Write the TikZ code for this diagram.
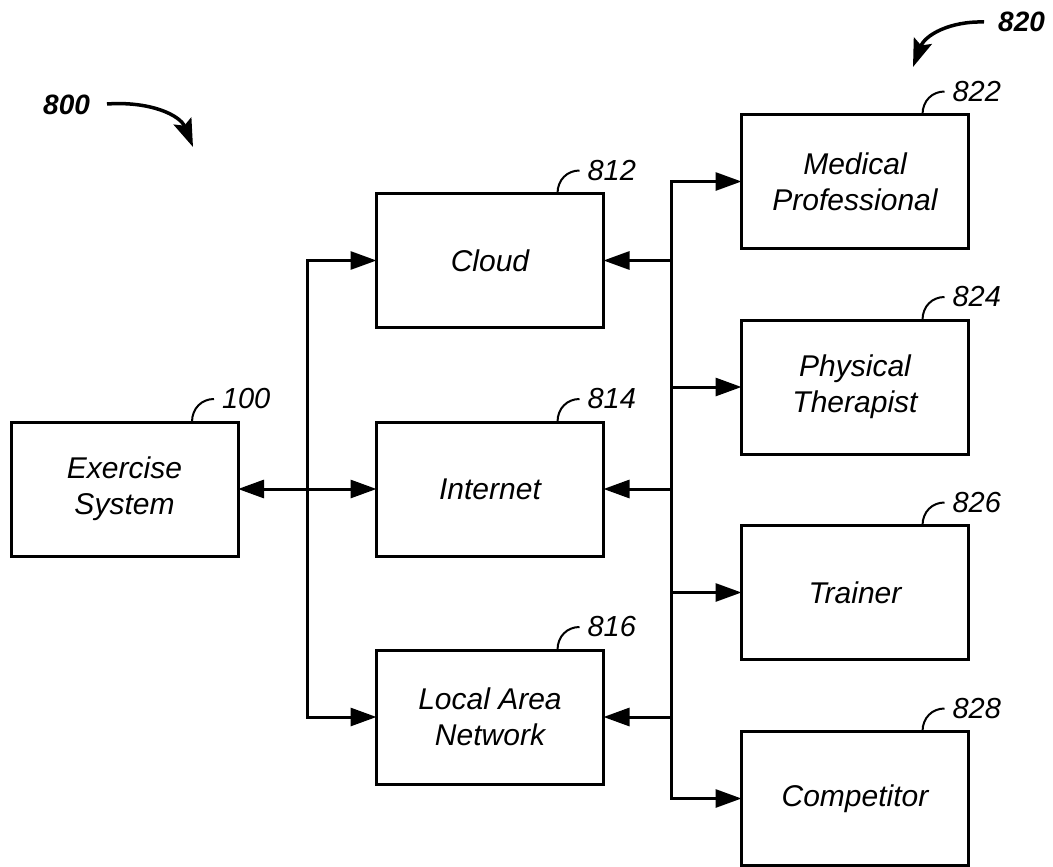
\documentclass[tikz,border=0pt]{standalone}
\usepackage{fontspec}
\setmainfont{Liberation Sans}
\usetikzlibrary{arrows.meta,calc}
\begin{document}
\begin{tikzpicture}[x=1pt,y=-1pt,
  box/.style={draw, line width=3pt, minimum width=227pt, minimum height=134pt,
    inner sep=0pt, outer sep=0pt, align=center, font=\fontsize{30}{36}\selectfont\itshape},
  conn/.style={line width=3pt},
  tip/.style={-{Triangle[length=26pt,width=18pt]}},
  dtip/.style={{Triangle[length=26pt,width=18pt]}-{Triangle[length=26pt,width=18pt]}},
  refnum/.style={font=\fontsize{29}{32}\selectfont\itshape, inner sep=0pt, anchor=west, xshift=7pt},
  leader/.style={line width=2pt},
  bignum/.style={font=\fontsize{28}{30}\selectfont\bfseries\itshape, inner sep=0pt, anchor=base west},
  bigarrow/.style={line width=3.5pt, -{Stealth[length=28pt,width=19pt,inset=5pt]}}
]
\useasboundingbox (0,0) rectangle (1053,867);

% boxes
\node[box] (ex) at (124.5,489) {Exercise\\System};
\node[box] (cloud) at (490,260.5) {Cloud};
\node[box] (inet) at (490,489) {Internet};
\node[box] (lan) at (490,717) {Local Area\\Network};
\node[box] (med) at (855,181.5) {Medical\\Professional};
\node[box] (pt) at (855,387) {Physical\\Therapist};
\node[box] (tr) at (855,592.5) {Trainer};
\node[box] (comp) at (855,798.5) {Competitor};

% buses
\coordinate (lb) at (307,0);
\coordinate (rb) at (671,0);

% left side
\draw[conn,dtip] (ex.east) -- (inet.west);
\draw[conn,tip] (lb |- inet.west) |- (cloud.west);
\draw[conn,tip] (lb |- inet.west) |- (lan.west);

% right side
\draw[conn,tip] (rb |- pt.west) |- (med.west);
\draw[conn,tip] (rb |- pt.west) |- (comp.west);
\draw[conn,tip] (rb |- pt.west) -- (pt.west);
\draw[conn,tip] (rb |- tr.west) -- (tr.west);
\draw[conn,tip] (rb |- cloud.east) -- (cloud.east);
\draw[conn,tip] (rb |- inet.east) -- (inet.east);
\draw[conn,tip] (rb |- lan.east) -- (lan.east);

% reference numerals with leaders
\draw[leader] ([xshift=-46pt]ex.north east) .. controls +(0,-14) and +(-12,0) .. ++(22,-23) node[refnum] (n100) {100};
\draw[leader] ([xshift=-46pt]cloud.north east) .. controls +(0,-14) and +(-12,0) .. ++(22,-23) node[refnum] (n812) {812};
\draw[leader] ([xshift=-46pt]inet.north east) .. controls +(0,-14) and +(-12,0) .. ++(22,-23) node[refnum] (n814) {814};
\draw[leader] ([xshift=-46pt]lan.north east) .. controls +(0,-14) and +(-12,0) .. ++(22,-23) node[refnum] (n816) {816};
\draw[leader] ([xshift=-46pt]med.north east) .. controls +(0,-14) and +(-12,0) .. ++(22,-23) node[refnum] (n822) {822};
\draw[leader] ([xshift=-46pt]pt.north east) .. controls +(0,-14) and +(-12,0) .. ++(22,-23) node[refnum] (n824) {824};
\draw[leader] ([xshift=-46pt]tr.north east) .. controls +(0,-14) and +(-12,0) .. ++(22,-23) node[refnum] (n826) {826};
\draw[leader] ([xshift=-46pt]comp.north east) .. controls +(0,-14) and +(-12,0) .. ++(22,-23) node[refnum] (n828) {828};

% figure numerals
\node[bignum] (n800) at (43,114) {800};
\coordinate (a800s) at (107,104);
\coordinate (a800e) at (193,147);
\draw[bigarrow] (a800s) .. controls (150,101) and (180,115) .. (a800e);

\node[bignum] (n820) at (998,32) {820};
\coordinate (a820s) at (984,22);
\coordinate (a820e) at (913,67);
\draw[bigarrow] (a820s) .. controls (950,21) and (925,35) .. (a820e);

\node[anchor=north west, inner sep=0pt, font=\fontsize{40}{44}\selectfont\bfseries] (fig) at (486,868) {FIG. 8};
\end{tikzpicture}
\end{document}
